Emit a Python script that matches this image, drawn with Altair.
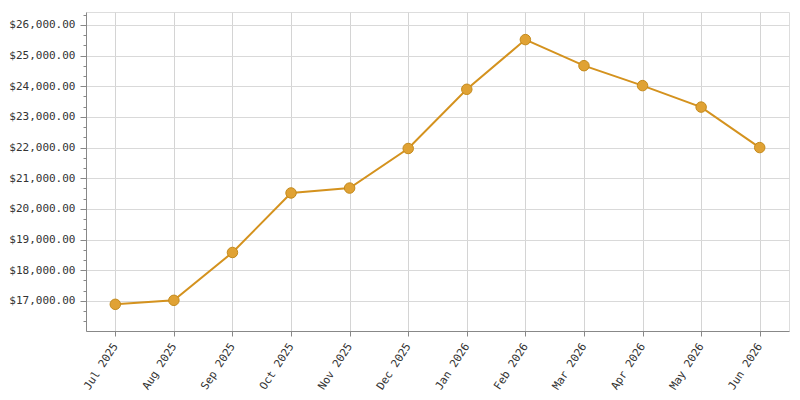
import altair as alt
import pandas as pd

months = ["Jul 2025", "Aug 2025", "Sep 2025", "Oct 2025", "Nov 2025", "Dec 2025",
          "Jan 2026", "Feb 2026", "Mar 2026", "Apr 2026", "May 2026", "Jun 2026"]
values = [16890, 17020, 18580, 20520, 20680, 21970,
          23900, 25520, 24670, 24020, 23320, 22000]

y_domain = [16020, 26420]
tick_values = [16000 + i * 1000 / 3 for i in range(1, 32)]

df = pd.DataFrame({"month": months, "value": values})

is_major = "abs(datum.value - round(datum.value / 1000) * 1000) < 1"

x_enc = alt.X("month:O", sort=months, title=None,
              scale=alt.Scale(type="point", padding=0.5),
              axis=alt.Axis(labelAngle=-57, labelAlign="right", labelBaseline="middle",
                            tickSize=5, labelPadding=8, domainColor="#888888",
                            tickColor="#888888", grid=True, gridColor="#d4d4d4",
                            labelFont="DejaVu Sans Mono", labelFontSize=11,
                            labelColor="#333333"))
y_enc = alt.Y("value:Q", title=None,
              scale=alt.Scale(domain=y_domain, nice=False, zero=False),
              axis=alt.Axis(values=tick_values, format="$,.2f",
                            labelExpr=f"{is_major} ? datum.label : ''",
                            labelOverlap=False, labelFlush=False,
                            tickSize={"condition": {"test": is_major, "value": 6}, "value": 3},
                            gridOpacity={"condition": {"test": is_major, "value": 1}, "value": 0},
                            gridColor="#d9d9d9", domainColor="#888888", tickColor="#888888",
                            labelPadding=5, labelFont="DejaVu Sans Mono", labelFontSize=11,
                            labelColor="#333333"))

line = alt.Chart(df).mark_line(color="#d4921e", strokeWidth=2).encode(x=x_enc, y=y_enc)
points = alt.Chart(df).mark_point(filled=True, size=110, fill="#e0a234", stroke="#c48a1c",
                                  strokeWidth=1, opacity=1).encode(x=x_enc, y=y_enc)

chart = (line + points).properties(
    width=703, height=319,
    padding={"left": 0, "top": 0, "right": 3, "bottom": 2},
).configure_view(stroke="#cccccc").configure(background="white")

chart.save("out.html", embed_options={"renderer": "svg", "actions": False})
